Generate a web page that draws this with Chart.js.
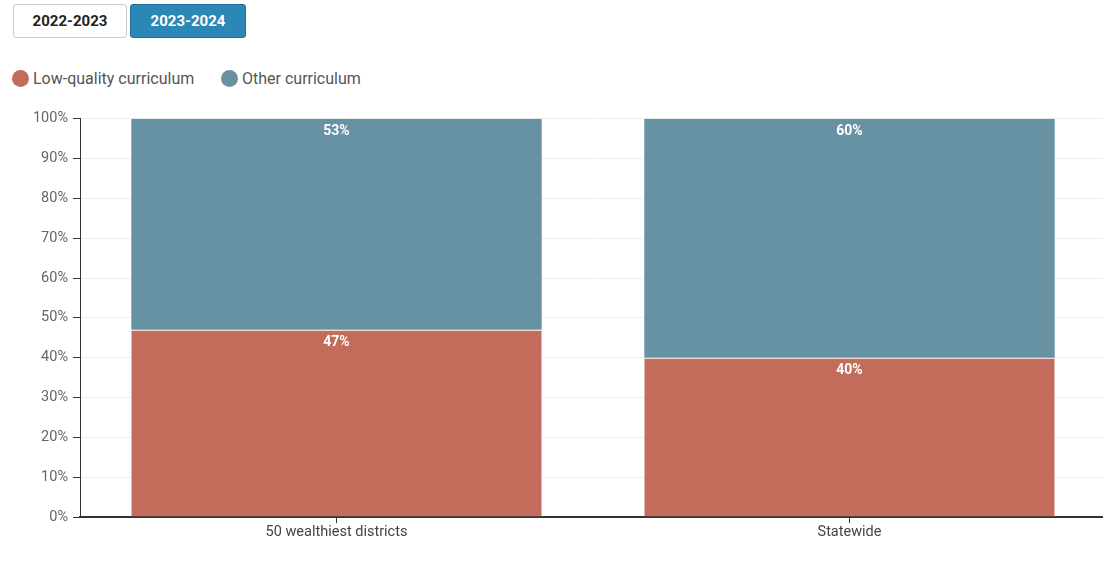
<!DOCTYPE html>
<html>
<head>
<meta charset="utf-8">
<script src="https://cdn.jsdelivr.net/npm/chart.js@4"></script>
<style>
  body { margin: 0; background: #fff; font-family: Roboto, "Noto Sans", sans-serif; overflow: hidden; }
  .btns { position: absolute; left: 13px; top: 4px; }
  .btn { position: absolute; top: 0; height: 34px; width: 114px; box-sizing: border-box;
         font: bold 15px Roboto, sans-serif; display: flex; align-items: center; justify-content: center;
         border-radius: 3px; }
  .btn.off { left: 0; border: 1px solid #ccc; color: #222; background: #fff; }
  .btn.on { left: 117px; width: 116px; background: #2b88b6; color: #fff; border: 1px solid #1f6f97; }
  .legend { position: absolute; left: 12px; top: 70px; font-size: 16px; color: #555; }
  .legend span { position: absolute; white-space: nowrap; top: 0; line-height: 18px; }
  .dot { display: inline-block; width: 17px; height: 17px; border-radius: 50%; vertical-align: -3px; margin-right: 4px; }
  #wrap { position: absolute; left: 0; top: 105px; width: 1106px; height: 447px; }
</style>
</head>
<body>
<div class="btns">
  <div class="btn off">2022-2023</div>
  <div class="btn on">2023-2024</div>
</div>
<div class="legend">
  <span style="left:0"><i class="dot" style="background:#c46c5c"></i>Low-quality curriculum</span>
  <span style="left:209px"><i class="dot" style="background:#6792a4"></i>Other curriculum</span>
</div>
<div id="wrap"><canvas id="chart"></canvas></div>
<script>
const categories = ["50 wealthiest districts", "Statewide"];
const lowQuality = [47, 40];
const otherCurriculum = [53, 60];

// white percentage labels near the top of each segment
const segmentLabels = {
  id: 'segmentLabels',
  afterDatasetsDraw(chart) {
    const ctx = chart.ctx;
    ctx.save();
    ctx.fillStyle = '#fff';
    ctx.font = 'bold 14px Roboto, sans-serif';
    ctx.textAlign = 'center';
    ctx.textBaseline = 'middle';
    chart.data.datasets.forEach((ds, i) => {
      chart.getDatasetMeta(i).data.forEach((bar, j) => {
        ctx.fillText(ds.data[j] + '%', bar.x, bar.y + 13);
      });
    });
    ctx.restore();
  }
};

new Chart(document.getElementById('chart'), {
  type: 'bar',
  data: {
    labels: categories,
    datasets: [
      { label: 'Low-quality curriculum', data: lowQuality, backgroundColor: '#c46c5c',
        borderColor: '#fff', borderWidth: { top: 1, left: 0, right: 0, bottom: 0 }, borderSkipped: false },
      { label: 'Other curriculum', data: otherCurriculum, backgroundColor: '#6792a4' }
    ]
  },
  options: {
    responsive: true,
    maintainAspectRatio: false,
    animation: false,
    layout: { padding: { top: 11, right: 0, left: 0, bottom: 0 } },
    plugins: { legend: { display: false }, tooltip: { enabled: false } },
    datasets: { bar: { barPercentage: 0.8, categoryPercentage: 1 } },
    scales: {
      x: {
        stacked: true,
        afterFit(scale) { scale.height = 35; },
        grid: { drawOnChartArea: false, offset: false, tickLength: 6, tickColor: '#333' },
        border: { color: '#333', width: 2 },
        ticks: { color: '#444', font: { size: 14.5, family: 'Roboto' }, padding: 1 }
      },
      y: {
        stacked: true,
        min: 0,
        max: 100,
        afterFit(scale) { scale.width = 80; },
        grid: { color: '#eee', tickLength: 7, tickColor: '#333' },
        border: { color: '#333', width: 1 },
        ticks: { stepSize: 10, color: '#666', padding: 5, font: { size: 14.5, family: 'Roboto' },
                 callback: v => v + '%' }
      }
    }
  },
  plugins: [segmentLabels]
});
</script>
</body>
</html>
